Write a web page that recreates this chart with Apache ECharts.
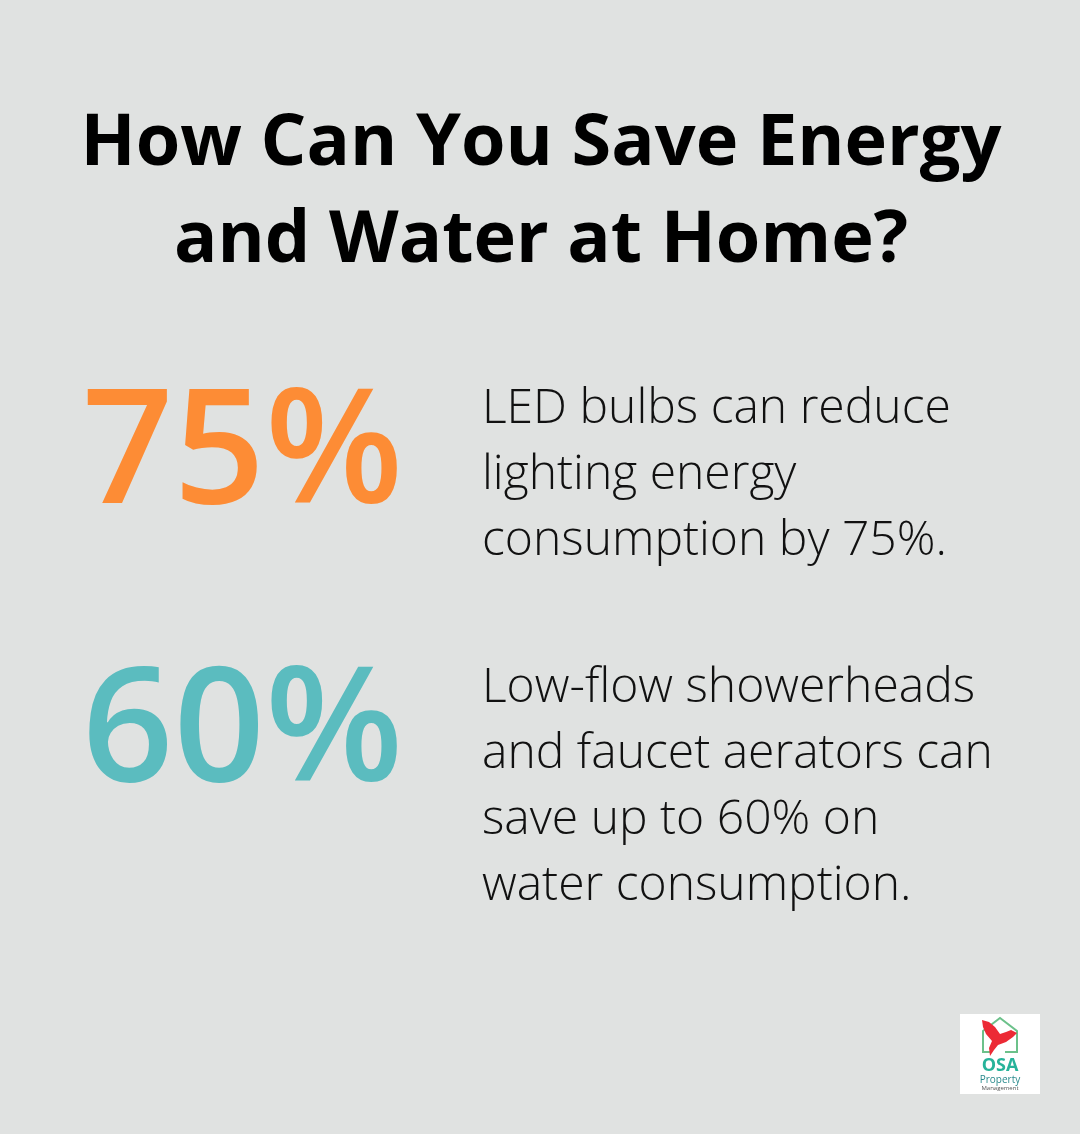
<!DOCTYPE html>
<html>
<head>
<meta charset="utf-8">
<script src="https://cdn.jsdelivr.net/npm/echarts@6/dist/echarts.min.js"></script>
<style>
  html, body { margin: 0; padding: 0; background: #e0e2e1; }
  #main { width: 1080px; height: 1134px; }
</style>
</head>
<body>
<div id="main"></div>
<script>
// data
var titleLines = ['How Can You Save Energy', 'and Water at Home?'];
var statValues = [75, 60];
var statColors = ['#fd8c35', '#5bbcbf'];
var statDesc = [
    ['LED bulbs can reduce', 'lighting energy', 'consumption by 75%.'],
    ['Low-flow showerheads', 'and faucet aerators can', 'save up to 60% on', 'water consumption.']
];

var FONT = '"Open Sans", "Noto Sans", sans-serif';
var myChart = echarts.init(document.getElementById('main'));

var els = [];
// title
for (var i = 0; i < titleLines.length; i++) {
    els.push({
        type: 'text',
        x: 541, y: 144 + i * 97,
        style: {
            text: titleLines[i], fill: '#000',
            font: 'bold 72px ' + FONT,
            align: 'center', verticalAlign: 'middle'
        }
    });
}

// big numbers + description
var numMid = [457, 735];
var descTop = [409, 688];
for (var k = 0; k < statValues.length; k++) {
    els.push({
        type: 'text',
        x: 82, y: numMid[k],
        style: {
            text: statValues[k] + '%', fill: statColors[k],
            font: '600 160px ' + FONT,
            align: 'left', verticalAlign: 'middle'
        }
    });
    for (var j = 0; j < statDesc[k].length; j++) {
        els.push({
            type: 'text',
            x: 482, y: descTop[k] + j * 66,
            style: {
                text: statDesc[k][j], fill: '#111',
                font: '300 48px ' + FONT,
                align: 'left', verticalAlign: 'middle'
            }
        });
    }
}

// logo
els.push({ type: 'rect', shape: { x: 960, y: 1014, width: 80, height: 80 }, style: { fill: '#ffffff' } });
els.push({
    type: 'polyline',
    shape: { points: [[992, 1052], [983, 1052], [983, 1031], [1000, 1018], [1017, 1031], [1017, 1052], [1005, 1052]] },
    style: { stroke: '#6cc18a', lineWidth: 2, fill: null }
});
els.push({
    type: 'polygon',
    shape: { points: [[982, 1020], [989, 1022], [995, 1027], [1000, 1034], [1006, 1032], [1011, 1030], [1017, 1033], [1013, 1037], [1006, 1042], [998, 1045], [994, 1050], [990, 1056], [989, 1048], [992, 1041], [986, 1034], [983, 1027]] },
    style: { fill: '#ec2a35' }
});
els.push({
    type: 'text', x: 1000, y: 1066,
    style: { text: 'OSA', fill: '#27b39a', font: 'bold 18px ' + FONT, align: 'center', verticalAlign: 'middle' }
});
els.push({
    type: 'text', x: 1000, y: 1080,
    style: { text: 'Property', fill: '#2a8a8c', font: '10px ' + FONT, align: 'center', verticalAlign: 'middle' }
});
els.push({
    type: 'text', x: 1000, y: 1088,
    style: { text: 'Management', fill: '#555', font: '6px ' + FONT, align: 'center', verticalAlign: 'middle' }
});

option = {
    backgroundColor: '#e0e2e1',
    animation: false,
    graphic: { elements: els }
};
myChart.setOption(option);
</script>
</body>
</html>
